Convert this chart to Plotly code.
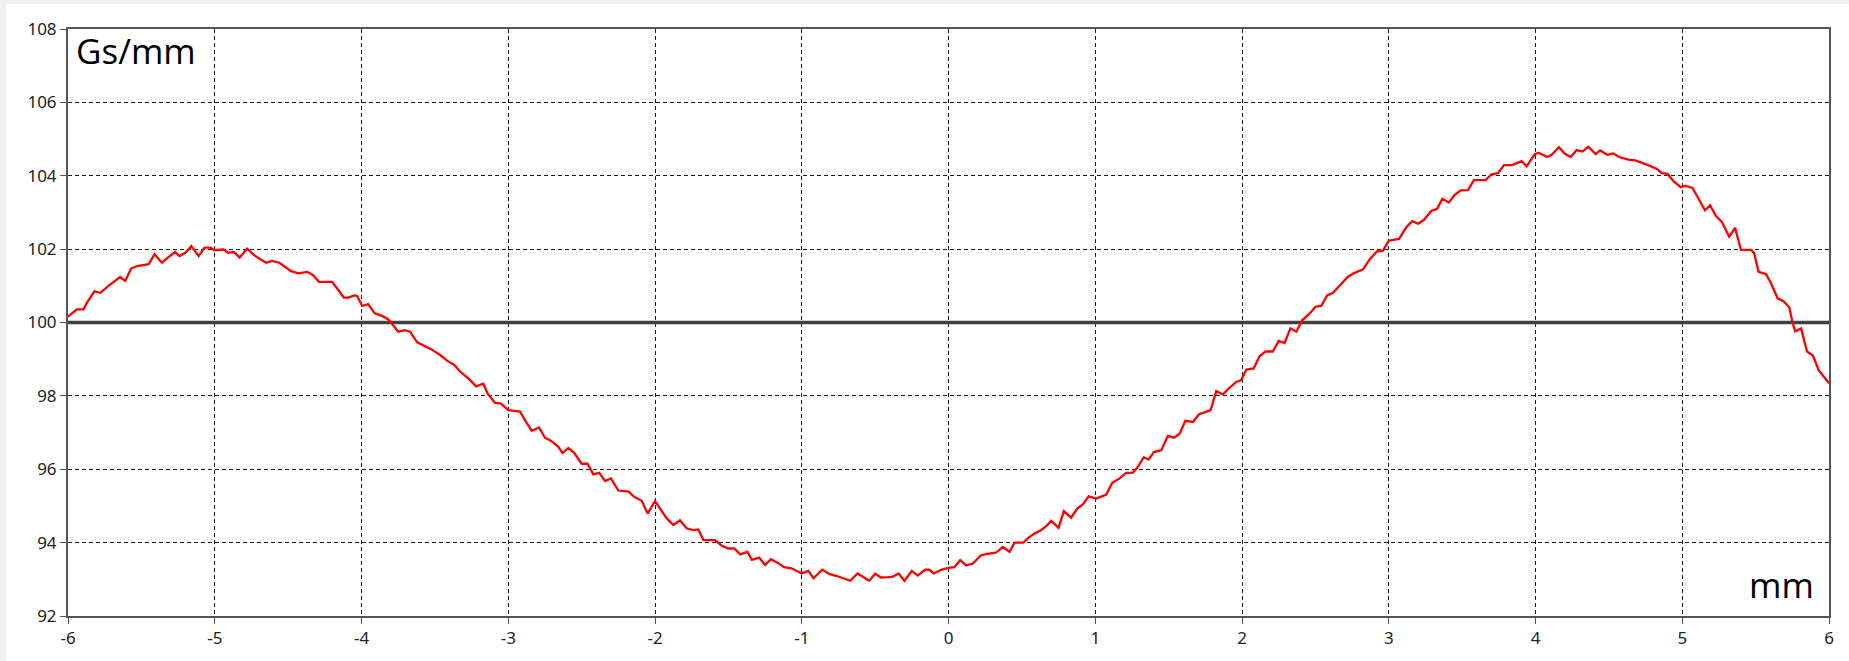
import plotly.graph_objects as go

# Position along the axis (mm)
x_mm = [
    -6.00, -5.94, -5.895, -5.87, -5.82, -5.78, -5.72, -5.68, -5.645, -5.61, -5.57, -5.53, -5.45, -5.41,
    -5.36, -5.32, -5.27, -5.24, -5.20, -5.16, -5.11, -5.07, -5.03, -5.00, -4.94, -4.91, -4.87, -4.83,
    -4.78, -4.73, -4.69, -4.65, -4.61, -4.56, -4.53, -4.48, -4.43, -4.37, -4.33, -4.29, -4.20, -4.16,
    -4.12, -4.09, -4.05, -4.03, -3.995, -3.955, -3.91, -3.86, -3.82, -3.79, -3.75, -3.705, -3.67, -3.62,
    -3.57, -3.52, -3.46, -3.41, -3.37, -3.32, -3.27, -3.22, -3.17, -3.14, -3.09, -3.05, -3.00, -2.92,
    -2.88, -2.84, -2.79, -2.75, -2.71, -2.66, -2.63, -2.59, -2.55, -2.50, -2.46, -2.42, -2.38, -2.34,
    -2.30, -2.25, -2.18, -2.14, -2.09, -2.05, -2.00, -1.966, -1.92, -1.875, -1.83, -1.785, -1.74, -1.705,
    -1.67, -1.59, -1.55, -1.50, -1.46, -1.42, -1.37, -1.34, -1.29, -1.25, -1.21, -1.16, -1.12, -1.07,
    -1.00, -0.955, -0.92, -0.86, -0.81, -0.76, -0.72, -0.67, -0.62, -0.58, -0.54, -0.50, -0.46, -0.41,
    -0.38, -0.34, -0.30, -0.25, -0.21, -0.16, -0.13, -0.10, -0.05, 0.00, 0.04, 0.08, 0.12, 0.166,
    0.22, 0.26, 0.325, 0.37, 0.416, 0.45, 0.51, 0.55, 0.586, 0.63, 0.666, 0.70, 0.75, 0.786,
    0.836, 0.877, 0.916, 0.955, 1.007, 1.075, 1.116, 1.166, 1.21, 1.257, 1.286, 1.33, 1.364, 1.40,
    1.45, 1.495, 1.536, 1.575, 1.614, 1.666, 1.707, 1.745, 1.786, 1.825, 1.87, 1.905, 1.96, 1.995,
    2.03, 2.08, 2.12, 2.16, 2.21, 2.25, 2.29, 2.33, 2.37, 2.41, 2.46, 2.50, 2.54, 2.58,
    2.62, 2.66, 2.72, 2.76, 2.825, 2.87, 2.92, 2.96, 3.00, 3.07, 3.12, 3.16, 3.20, 3.24,
    3.29, 3.33, 3.365, 3.41, 3.45, 3.49, 3.54, 3.58, 3.66, 3.70, 3.745, 3.785, 3.84, 3.905,
    3.94, 3.995, 4.02, 4.08, 4.11, 4.16, 4.20, 4.24, 4.28, 4.32, 4.36, 4.41, 4.44, 4.49,
    4.53, 4.57, 4.64, 4.68, 4.74, 4.78, 4.83, 4.86, 4.90, 4.94, 4.99, 5.02, 5.07, 5.11,
    5.155, 5.19, 5.23, 5.27, 5.32, 5.36, 5.40, 5.47, 5.49, 5.52, 5.57, 5.60, 5.65, 5.69,
    5.73, 5.75, 5.77, 5.81, 5.85, 5.89, 5.93, 5.965, 6.00,
]

# Field gradient (Gs/mm)
gradient = [
    100.16, 100.36, 100.36, 100.54, 100.85, 100.81, 101.01, 101.13, 101.24, 101.13, 101.47, 101.54, 101.59, 101.86,
    101.63, 101.77, 101.92, 101.81, 101.90, 102.08, 101.81, 102.04, 102.04, 101.97, 101.99, 101.90, 101.92, 101.77,
    102.01, 101.83, 101.72, 101.63, 101.68, 101.63, 101.54, 101.40, 101.34, 101.38, 101.29, 101.11, 101.11, 100.91,
    100.68, 100.68, 100.74, 100.72, 100.45, 100.50, 100.25, 100.18, 100.09, 99.95, 99.75, 99.79, 99.75, 99.46,
    99.35, 99.26, 99.10, 98.94, 98.85, 98.63, 98.47, 98.26, 98.33, 98.06, 97.81, 97.79, 97.61, 97.57,
    97.30, 97.05, 97.14, 96.86, 96.78, 96.62, 96.44, 96.58, 96.44, 96.15, 96.15, 95.86, 95.90, 95.68,
    95.75, 95.42, 95.39, 95.24, 95.14, 94.79, 95.13, 94.93, 94.66, 94.48, 94.61, 94.39, 94.34, 94.36,
    94.07, 94.07, 93.93, 93.84, 93.84, 93.68, 93.75, 93.53, 93.59, 93.39, 93.55, 93.44, 93.33, 93.30,
    93.16, 93.23, 93.03, 93.26, 93.14, 93.09, 93.03, 92.96, 93.16, 93.07, 92.96, 93.15, 93.05, 93.06,
    93.07, 93.16, 92.96, 93.23, 93.10, 93.26, 93.26, 93.16, 93.26, 93.31, 93.33, 93.52, 93.38, 93.43,
    93.65, 93.69, 93.73, 93.88, 93.75, 94.00, 94.00, 94.15, 94.25, 94.34, 94.45, 94.59, 94.40, 94.86,
    94.68, 94.93, 95.04, 95.26, 95.20, 95.31, 95.63, 95.75, 95.90, 95.91, 96.04, 96.32, 96.27, 96.47,
    96.52, 96.91, 96.86, 96.97, 97.32, 97.29, 97.50, 97.55, 97.61, 98.13, 98.04, 98.18, 98.38, 98.43,
    98.72, 98.75, 99.08, 99.21, 99.21, 99.50, 99.44, 99.84, 99.75, 100.06, 100.24, 100.43, 100.45, 100.74,
    100.81, 100.98, 101.24, 101.34, 101.45, 101.72, 101.94, 101.96, 102.23, 102.28, 102.60, 102.76, 102.69, 102.80,
    103.04, 103.10, 103.37, 103.27, 103.48, 103.60, 103.61, 103.88, 103.88, 104.04, 104.07, 104.29, 104.29, 104.40,
    104.26, 104.59, 104.63, 104.51, 104.57, 104.78, 104.60, 104.51, 104.70, 104.66, 104.79, 104.59, 104.69, 104.57,
    104.61, 104.51, 104.43, 104.42, 104.34, 104.27, 104.18, 104.07, 104.05, 103.85, 103.69, 103.73, 103.67, 103.39,
    103.06, 103.19, 102.90, 102.74, 102.34, 102.58, 101.98, 101.98, 101.89, 101.38, 101.32, 101.11, 100.66, 100.58,
    100.41, 100.02, 99.76, 99.84, 99.21, 99.10, 98.70, 98.52, 98.34,
]

baseline = 100
x_ticks = [-6, -5, -4, -3, -2, -1, 0, 1, 2, 3, 4, 5, 6]
y_ticks = [92, 94, 96, 98, 100, 102, 104, 106, 108]

W, H = 1849, 661
L, R, T, B = 68, 20, 29, 43
pw, ph = W - L - R, H - T - B

def px_x(px):
    return (px - L) / pw

def px_y(py):
    return (H - B - py) / ph

fig = go.Figure()
# reference level line (drawn under the measured curve)
fig.add_trace(go.Scatter(
    x=[x_ticks[0], x_ticks[-1]], y=[baseline, baseline], mode="lines",
    line=dict(color="#404040", width=3.5),
    hoverinfo="skip", showlegend=False,
))
fig.add_trace(go.Scatter(
    x=x_mm, y=gradient, mode="lines",
    line=dict(color="#ff0000", width=2.3),
    hoverinfo="skip", showlegend=False,
))

axis_common = dict(
    showline=True, mirror=True, linecolor="#555555", linewidth=2,
    ticks="outside", ticklen=6, tickcolor="#555555", tickwidth=1,
    showgrid=True, gridcolor="#1a1a1a", gridwidth=1, griddash="4px,3px",
    zeroline=False,
    tickfont=dict(family="Noto Sans, Open Sans, sans-serif", size=17, color="#222222"),
)

fig.update_xaxes(range=[-6, 6], tickvals=x_ticks, ticktext=[str(v) for v in x_ticks], **axis_common)
fig.update_yaxes(range=[92, 108], tickvals=y_ticks, ticktext=[str(v) for v in y_ticks], **axis_common)

# light gray window frame strips at top and left
fig.add_shape(type="rect", xref="paper", yref="paper",
              x0=px_x(-5), x1=px_x(W + 5), y0=px_y(4), y1=px_y(-5),
              fillcolor="#f0f0f0", line=dict(width=0), layer="below")
fig.add_shape(type="rect", xref="paper", yref="paper",
              x0=px_x(-5), x1=px_x(6), y0=px_y(H + 5), y1=px_y(-5),
              fillcolor="#f0f0f0", line=dict(width=0), layer="below")

fig.add_annotation(text="Gs/mm", xref="paper", yref="paper",
                   x=px_x(74), y=px_y(25), xanchor="left", yanchor="top",
                   showarrow=False,
                   font=dict(family="Open Sans, Noto Sans, sans-serif", size=35, color="#000000"))
fig.add_annotation(text="mm", xref="paper", yref="paper",
                   x=px_x(1816), y=px_y(612), xanchor="right", yanchor="bottom",
                   showarrow=False,
                   font=dict(family="Open Sans, Noto Sans, sans-serif", size=35, color="#000000"))

fig.update_layout(
    width=W, height=H,
    margin=dict(l=L, r=R, t=T, b=B),
    paper_bgcolor="white",
    plot_bgcolor="white",
    showlegend=False,
    hovermode=False,
)

fig.write_html("out.html",
               config={"displayModeBar": False, "staticPlot": True},
               post_script="document.body.style.margin='0';document.body.style.overflow='hidden';")
